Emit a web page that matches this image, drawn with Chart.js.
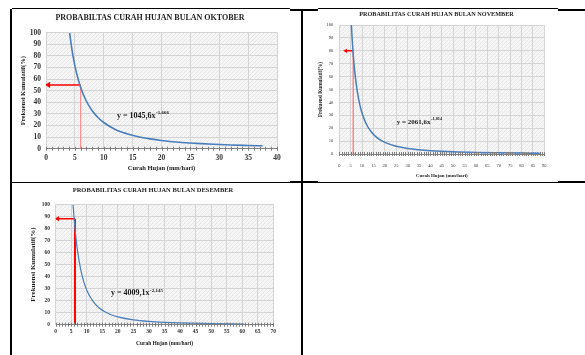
<!DOCTYPE html>
<html>
<head>
<meta charset="utf-8">
<script src="https://cdn.jsdelivr.net/npm/chart.js@4/dist/chart.umd.min.js"></script>
<style>
  html, body { margin: 0; padding: 0; background: #fff; }
  body { position: relative; width: 585px; height: 355px; overflow: hidden; }
  .rule { position: absolute; background: #000; }
  .sheet { position: absolute; background: #fff; border-top: 1px solid #000; }
  canvas { position: absolute; }
</style>
</head>
<body>
<!-- table rules -->
<div class="rule" style="left:11px;top:9px;width:574px;height:2px"></div>
<div class="rule" style="left:10px;top:9px;width:2px;height:346px"></div>
<div class="rule" style="left:301px;top:9px;width:2px;height:346px"></div>
<div class="rule" style="left:10px;top:181px;width:575px;height:2px"></div>
<!-- pasted figure sheets -->
<div class="sheet" style="left:12px;top:8px;width:278px;height:173px"></div>
<div class="sheet" style="left:318px;top:8px;width:240px;height:173px"></div>

<canvas id="cOkt" width="276" height="172" style="left:12px;top:9px"></canvas>
<canvas id="cNov" width="267" height="172" style="left:303px;top:9px"></canvas>
<canvas id="cDes" width="282" height="171" style="left:12px;top:184px"></canvas>

<script>
// ---- Oktober ----
const oktoberCurah = [4.1, 4.5, 5, 5.5, 6, 7, 8, 9, 10, 12, 14, 16, 18, 20, 23, 26, 29, 32, 35, 37.5];
const oktoberFrek  = [99.6, 85.3, 71.6, 61.1, 52.8, 40.9, 32.7, 26.9, 22.6, 16.6, 12.9, 10.3, 8.5, 7.1, 5.6, 4.6, 3.8, 3.2, 2.8, 2.5];
const oktoberXTicks = [0, 5, 10, 15, 20, 25, 30, 35, 40];
const oktoberGuideX = [6, 0.4];   // vertical line at x, arrow tip x
const oktoberGuideY = [55];

// ---- November ----
const novemberCurah = [5.3, 5.6, 6, 6.5, 7, 8, 9, 10, 12, 14, 16, 18, 20, 25, 30, 35, 40, 50, 60, 70, 80, 88];
const novemberFrek  = [100, 90.6, 79.9, 69.1, 60.4, 47.4, 38.3, 31.6, 22.7, 17.2, 13.5, 10.9, 9.0, 6.0, 4.3, 3.3, 2.6, 1.7, 1.2, 0.93, 0.73, 0.61];
const novemberXTicks = [0, 5, 10, 15, 20, 25, 30, 35, 40, 45, 50, 55, 60, 65, 70, 75, 80, 85, 90];
const novemberGuideX = [6.1, 2.8];
const novemberGuideY = [80];

// ---- Desember ----
const desemberCurah = [5.6, 5.9, 6.2, 6.6, 7, 8, 9, 10, 12, 14, 16, 18, 20, 25, 30, 35, 40, 50, 60.5];
const desemberFrek  = [99.5, 89.0, 80.0, 70.0, 61.7, 46.3, 36.0, 28.7, 19.4, 13.9, 10.5, 8.1, 6.5, 4.0, 2.7, 1.96, 1.47, 0.91, 0.60];
const desemberXTicks = [0, 5, 10, 15, 20, 25, 30, 35, 40, 45, 50, 55, 60, 65, 70];
const desemberGuideX = [6.2, 0.6];
const desemberGuideY = [88];

const frekYTicks = [0, 10, 20, 30, 40, 50, 60, 70, 80, 90, 100];

const SERIF = "'Liberation Serif', 'Times New Roman', serif";
const GRID = '#d4d4d4';
const AXIS = '#808080';
const CURVE = '#4a7ebb';

// light diagonal hatch used for the plot area
function hatchPattern() {
  const c = document.createElement('canvas');
  c.width = 4; c.height = 4;
  const g = c.getContext('2d');
  g.fillStyle = '#f5f5f5';
  g.fillRect(0, 0, 4, 4);
  g.fillStyle = '#e7e7e7';
  for (let i = 0; i < 4; i++) g.fillRect(i, 3 - i, 1, 1);
  return g.createPattern(c, 'repeat');
}

const plotDecor = {
  id: 'plotDecor',
  beforeDraw(chart) {
    const a = chart.chartArea, ctx = chart.ctx;
    ctx.save();
    ctx.fillStyle = hatchPattern();
    ctx.fillRect(a.left, a.top, a.right - a.left, a.bottom - a.top);
    ctx.restore();
  },
  afterDraw(chart, args, opts) {
    const ctx = chart.ctx, xs = chart.scales.x, ys = chart.scales.y;
    // crossing tick marks along the x axis
    const y0 = ys.getPixelForValue(0);
    ctx.save();
    ctx.strokeStyle = AXIS;
    ctx.lineWidth = 1;
    ctx.beginPath();
    for (let v = xs.min; v <= xs.max + 1e-9; v += opts.minorStep) {
      const px = Math.round(xs.getPixelForValue(v)) + 0.5;
      ctx.moveTo(px, y0 - 2);
      ctx.lineTo(px, y0 + 2);
    }
    ctx.stroke();
    // regression equation
    const e = opts.equation;
    const ex = xs.getPixelForValue(e.x), ey = ys.getPixelForValue(e.y);
    ctx.fillStyle = '#1a1a1a';
    ctx.textBaseline = 'middle';
    ctx.textAlign = 'left';
    ctx.font = 'bold ' + e.size + 'px ' + SERIF;
    ctx.fillText(e.base, ex, ey);
    const w = ctx.measureText(e.base).width;
    ctx.font = 'bold ' + (e.size * 0.62) + 'px ' + SERIF;
    ctx.fillText(e.exp, ex + w + 0.5, ey - e.size * 0.38);
    ctx.restore();
  }
};

function pts(xs, ys) { return xs.map((x, i) => ({ x: x, y: ys[i] })); }

function buildChart(id, s) {
  const gx = s.guideX, gy = s.guideY[0];
  return new Chart(document.getElementById(id), {
    type: 'line',
    data: {
      datasets: [
        {
          data: pts(s.curah, s.frek),
          borderColor: CURVE, borderWidth: s.curveWidth,
          pointRadius: 0, cubicInterpolationMode: 'monotone', fill: false
        },
        {
          data: [{ x: gx[0], y: 0 }, { x: gx[0], y: gy }],
          borderColor: s.vColor, borderWidth: s.vWidth, pointRadius: 0
        },
        {
          data: [{ x: gx[0], y: gy }, { x: gx[1], y: gy }],
          borderColor: '#ff0000', backgroundColor: '#ff0000', borderWidth: 1.5,
          pointStyle: 'triangle', rotation: -90,
          pointRadius: [0, s.headSize], pointBorderWidth: 0
        }
      ]
    },
    options: {
      responsive: false,
      animation: false,
      devicePixelRatio: 1,
      events: [],
      layout: { padding: 0 },
      plugins: {
        legend: { display: false },
        tooltip: { enabled: false },
        title: {
          display: true, text: s.title, color: '#1e1e1e',
          font: { family: SERIF, size: s.titleSize, weight: 'bold' },
          padding: { top: s.titlePadTop, bottom: s.titlePadBottom }
        },
        plotDecor: { minorStep: s.minorStep, equation: s.equation }
      },
      scales: {
        x: {
          type: 'linear', min: 0, max: s.xTicks[s.xTicks.length - 1],
          afterBuildTicks: sc => { sc.ticks = s.xTicks.map(v => ({ value: v })); },
          afterFit: sc => { sc.height = s.xH; },
          grid: { color: GRID, drawTicks: false },
          border: { color: AXIS },
          ticks: {
            autoSkip: false, maxRotation: 0, padding: s.xTickPad, color: '#333',
            font: { family: SERIF, size: s.tickSize, weight: s.tickWeight }
          },
          title: {
            display: true, text: 'Curah Hujan (mm/hari)', color: '#222',
            font: { family: SERIF, size: s.xTitleSize, weight: 'bold' },
            padding: { top: 0, bottom: s.xTitlePad }
          }
        },
        y: {
          type: 'linear', min: 0, max: 100, position: 'left',
          afterBuildTicks: sc => { sc.ticks = frekYTicks.map(v => ({ value: v })); },
          afterFit: sc => { sc.width = s.yW; },
          grid: { color: GRID, drawTicks: false },
          border: { color: GRID },
          ticks: {
            autoSkip: false, padding: s.yTickPad, color: '#333',
            font: { family: SERIF, size: s.tickSize, weight: s.tickWeight }
          },
          title: {
            display: true, text: 'Frekuensi Kumulatif(%)', color: '#222',
            font: { family: SERIF, size: s.yTitleSize, weight: 'bold' },
            padding: { top: s.yTitlePad, bottom: 0 }
          }
        },
        gap: {
          type: 'linear', position: 'right', display: true,
          afterFit: sc => { sc.width = s.rightGap; },
          grid: { display: false, drawTicks: false },
          border: { display: false },
          ticks: { display: false },
          title: { display: false }
        }
      }
    },
    plugins: [plotDecor]
  });
}

buildChart('cOkt', {
  title: 'PROBABILTAS CURAH HUJAN BULAN OKTOBER',
  curah: oktoberCurah, frek: oktoberFrek, xTicks: oktoberXTicks,
  guideX: oktoberGuideX, guideY: oktoberGuideY,
  curveWidth: 1.6, vColor: '#ff8080', vWidth: 1, headSize: 3.5,
  titleSize: 8, titlePadTop: 3.9, titlePadBottom: 10.2,
  yW: 34, yTickPad: 5, yTitleSize: 6.5, yTitlePad: 7.1,
  rightGap: 11,
  xH: 32.3, xTickPad: 5, xTitleSize: 6.5, xTitlePad: 9.1,
  tickSize: 7.5, tickWeight: 'bold', minorStep: 1,
  equation: { x: 12.3, y: 28, base: 'y = 1045,6x', exp: '-1,666', size: 8 }
});

buildChart('cNov', {
  title: 'PROBABILITAS CURAH HUJAN BULAN NOVEMBER',
  curah: novemberCurah, frek: novemberFrek, xTicks: novemberXTicks,
  guideX: novemberGuideX, guideY: novemberGuideY,
  curveWidth: 1.5, vColor: '#ff7070', vWidth: 1.2, headSize: 2.5,
  titleSize: 6.2, titlePadTop: 1.6, titlePadBottom: 7,
  yW: 36.3, yTickPad: 6, yTitleSize: 5.2, yTitlePad: 14.6,
  rightGap: 25.7,
  xH: 27, xTickPad: 9.2, xTitleSize: 5, xTitlePad: 2,
  tickSize: 4.5, tickWeight: 'normal', minorStep: 1,
  equation: { x: 25.2, y: 25, base: 'y = 2061,6x', exp: '-1,814', size: 7 }
});

buildChart('cDes', {
  title: 'PROBABILITAS CURAH HUJAN BULAN DESEMBER',
  curah: desemberCurah, frek: desemberFrek, xTicks: desemberXTicks,
  guideX: desemberGuideX, guideY: desemberGuideY,
  curveWidth: 1.2, vColor: '#ff0000', vWidth: 2, headSize: 3,
  titleSize: 6.5, titlePadTop: 2.1, titlePadBottom: 10.4,
  yW: 43.7, yTickPad: 5.7, yTitleSize: 7, yTitlePad: 16.8,
  rightGap: 20.7,
  xH: 30.3, xTickPad: 4, xTitleSize: 5.5, xTitlePad: 7.7,
  tickSize: 5.5, tickWeight: 'bold', minorStep: 1,
  equation: { x: 17.8, y: 26, base: 'y = 4009,1x', exp: '-2,145', size: 8 }
});
</script>
</body>
</html>
